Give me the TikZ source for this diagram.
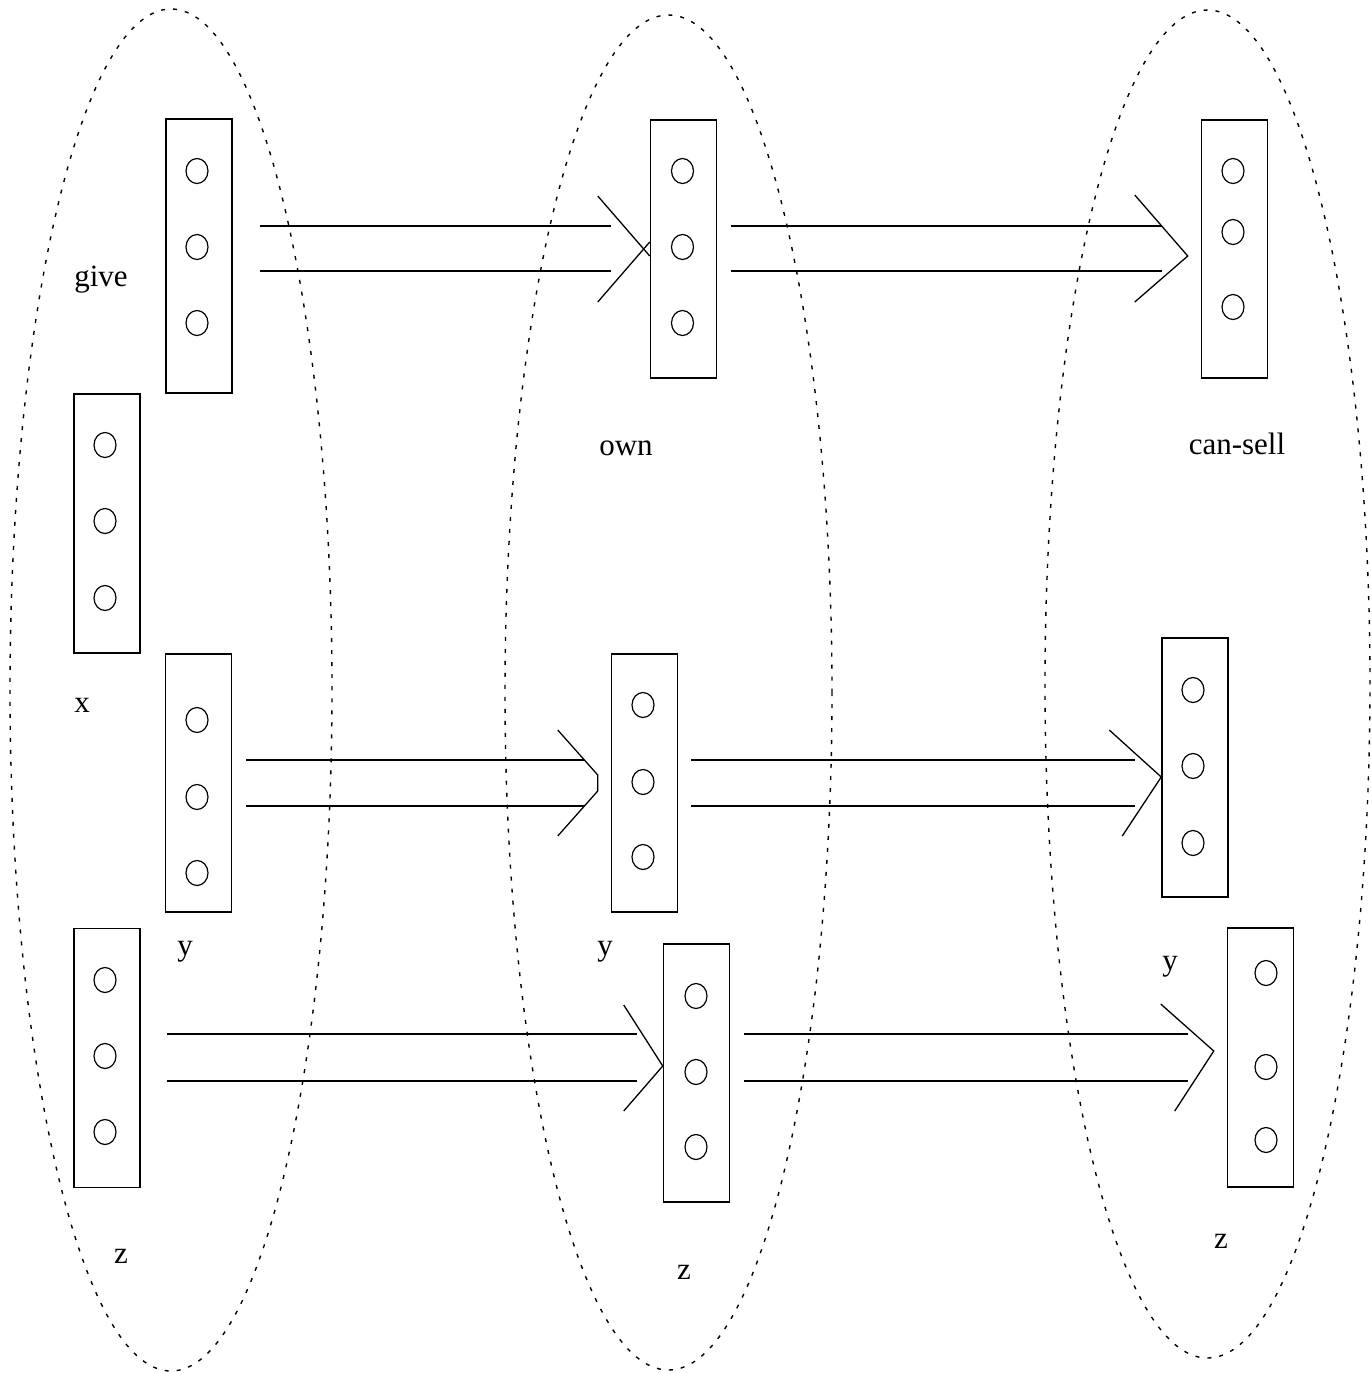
\documentclass[tikz,border=0pt]{standalone}
\usepackage{fontspec}
\setmainfont{Liberation Serif}
\usetikzlibrary{calc}
\tikzset{
  vbox/.style={draw, line width=0.75pt, minimum width=33pt, inner sep=0pt},
  slot/.style={line width=0.6pt},
  link/.style={line width=0.65pt},
  group/.style={line width=0.7pt, dash pattern=on 2pt off 4pt},
  lbl/.style={anchor=base, inner sep=0pt, font=\fontsize{15.5}{18}\selectfont}
}
\newcommand{\dbl}[6]{%
  \coordinate (tmps) at ($(#1.east)+(#2,0)$);
  \draw[link] (tmps |- #3.west) ++(0,#5) -- ($(#3.west)+(#4,#5)$);
  \draw[link] (tmps |- #3.west) ++(0,#6) -- ($(#3.west)+(#4,#6)$);
}
\newcommand{\slots}[6]{%
  \foreach \cy in {#2,#4,#6} {\draw[slot] (#1,\cy) ellipse [x radius=5.5pt, y radius=6.25pt];}
}
\begin{document}
\begin{tikzpicture}[x=0.5pt,y=-0.5pt]
\useasboundingbox (0,0) rectangle (1372,1373);
% groups
\draw[group] (171,690) ellipse [x radius=80.5pt, y radius=340.5pt];
\draw[group] (668.5,692.5) ellipse [x radius=81.75pt, y radius=338.75pt];
\draw[group] (1207.5,684) ellipse [x radius=81.25pt, y radius=337pt];
% boxes
\node[vbox, minimum height=137pt] (give) at (199,256) {};
\node[vbox, minimum height=129.5pt] (xb) at (107,523.5) {};
\node[vbox, minimum height=129pt] (yl) at (198.5,783) {};
\node[vbox, minimum height=129.5pt] (zl) at (107,1058) {};
\node[vbox, minimum height=129pt] (own) at (683.5,249) {};
\node[vbox, minimum height=129pt] (ym) at (644.5,783) {};
\node[vbox, minimum height=129pt] (zm) at (696.5,1073) {};
\node[vbox, minimum height=129pt] (can) at (1234.5,249) {};
\node[vbox, minimum height=129.5pt] (yr) at (1195,767.5) {};
\node[vbox, minimum height=129.5pt] (zr) at (1260.5,1057.5) {};
% slots
\slots{197}{171}{197}{247}{197}{323}
\slots{105}{445}{105}{521}{105}{598}
\slots{197}{720}{197}{797}{197}{873}
\slots{105}{980}{105}{1056}{105}{1132}
\slots{682.5}{171}{682.5}{247}{682.5}{323}
\slots{643}{705}{643}{782}{643}{857}
\slots{696}{996}{696}{1072}{696}{1147}
\slots{1233}{171}{1233}{232}{1233}{307}
\slots{1193}{690}{1193}{766}{1193}{843}
\slots{1266}{973}{1266}{1067}{1266}{1140}
% labels
\node[lbl] (lgive) at (101,286) {give};
\node[lbl] (lx) at (82,712) {x};
\node[lbl] (lyl) at (185,955) {y};
\node[lbl] (lzl) at (121,1263) {z};
\node[lbl] (lown) at (626,455) {own};
\node[lbl] (lym) at (605,955) {y};
\node[lbl] (lzm) at (684,1279) {z};
\node[lbl] (lcan) at (1237,454) {can-sell};
\node[lbl] (lyr) at (1170,970) {y};
\node[lbl] (lzr) at (1221,1248) {z};
% connectors
\dbl{give}{27}{own}{-39}{-23}{22}
\draw[link] ($(own.west)+(-52,-53)$) -- ($(own.west)+(0,7)$);
\draw[link] ($(own.west)+(-52,53)$) -- ($(own.west)+(0,-7)$);
\dbl{own}{14}{can}{-39}{-23}{22}
\draw[link] ($(can.west)+(-66,-54)$) -- ($(can.west)+(-13,7)$) -- ($(can.west)+(-66,53)$);
\dbl{yl}{14}{ym}{-27}{-23}{23}
\draw[link] ($(ym.west)+(-53,-53)$) -- ($(ym.west)+(-13,-8)$) -- ($(ym.west)+(-13,8)$) -- ($(ym.west)+(-53,53)$);
\dbl{ym}{13}{yr}{-26}{-7.5}{38.5}
\draw[link] ($(yr.west)+(-52,-37.5)$) -- ($(yr.west)+(0,9.5)$) -- ($(yr.west)+(-39,68.5)$);
\dbl{zl}{26}{zm}{-26}{-39}{8}
\draw[link] ($(zm.west)+(-39,-68)$) -- ($(zm.west)+(0,-7)$) -- ($(zm.west)+(-39,38)$);
\dbl{zm}{14}{zr}{-39}{-23.5}{23.5}
\draw[link] ($(zr.west)+(-66,-53.5)$) -- ($(zr.west)+(-13,-6.5)$) -- ($(zr.west)+(-52,53.5)$);
\end{tikzpicture}
\end{document}
